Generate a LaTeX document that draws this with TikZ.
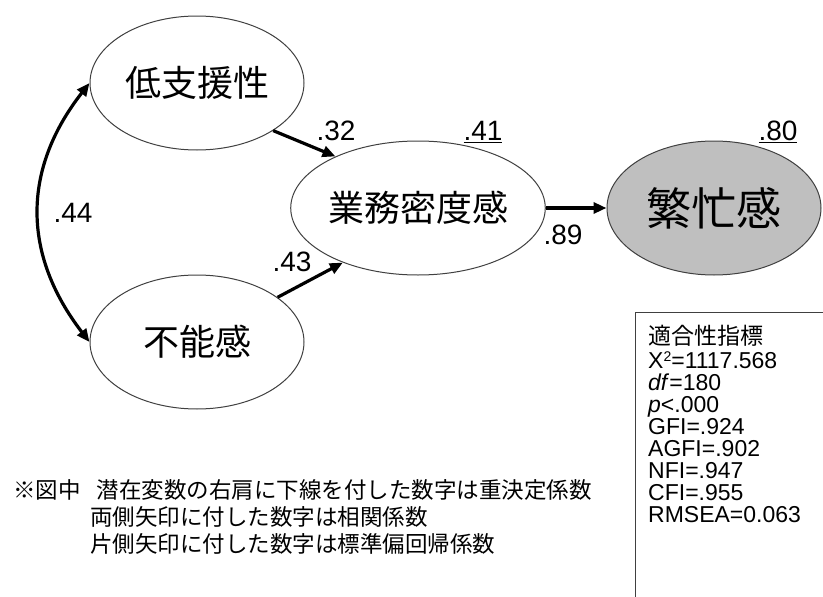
\documentclass[tikz,border=0pt]{standalone}
\usepackage{fontspec}
\setmainfont{Liberation Sans}
\newfontfamily\jp{Noto Sans CJK JP}
\usetikzlibrary{arrows.meta,shapes.geometric}
\begin{document}
\begin{tikzpicture}[x=1pt,y=-1pt,
  latent/.style={ellipse, draw=black!75, line width=1pt, minimum width=214pt, minimum height=134pt, inner sep=0pt, font=\jp\fontsize{36}{36}\selectfont},
  coef/.style={font=\fontsize{28}{28}\selectfont, inner sep=0pt},
  path/.style={line width=3.2pt, -{Triangle[length=13pt,width=11pt]}},
  fitline/.style={anchor=base west, inner sep=0pt, font=\fontsize{23}{23}\selectfont},
  noteline/.style={anchor=base west, inner sep=0pt, font=\jp\fontsize{22.5}{22.5}\selectfont}
]
\useasboundingbox (0,0) rectangle (823,597);
\clip (0,0) rectangle (823,597);
\fill[white] (0,0) rectangle (823,597);

\node[latent] (low) at (197,83) {低支援性};
\node[latent] (inc) at (197,342) {不能感};
\node[latent] (mid) at (418,208) {業務密度感};
\node[latent, fill=black!25, font=\jp\fontsize{45}{45}\selectfont] (busy) at (714,208) {繁忙感};

\draw[path] (low.-32) -- (mid.148);
\draw[path] (inc.29) -- (mid.216);
\draw[path] (mid.east) -- (busy.west);
\draw[line width=3.2pt, {Triangle[length=13pt,width=11pt]}-{Triangle[length=13pt,width=11pt]}]
  (low.west) .. controls +(-68,87) and +(-67,-87) .. (inc.west);

\node[coef] (c32) at (336,131) {.32};
\node[coef] (c43) at (292,262) {.43};
\node[coef] (c89) at (563,235) {.89};
\node[coef] (c44) at (73,213) {.44};
\node[coef] (r41) at (483,132) {\underline{.41}};
\node[coef] (r80) at (778,132) {\underline{.80}};

\draw[draw=black!75, line width=1pt] (635,640) -- (635,312) -- (840,312);
\node[fitline] (f1) at (648,344) {\jp 適合性指標};
\node[fitline] (f2) at (648,368) {X\raisebox{7pt}{\fontsize{14}{14}\selectfont 2}=1117.568};
\node[fitline] (f3) at (648,390) {\textit{df}=180};
\node[fitline] (f4) at (648,412) {\textit{p}<.000};
\node[fitline] (f5) at (648,434) {GFI=.924};
\node[fitline] (f6) at (648,456) {AGFI=.902};
\node[fitline] (f7) at (648,478) {NFI=.947};
\node[fitline] (f8) at (648,500) {CFI=.955};
\node[fitline] (f9) at (648,522) {RMSEA=0.063};

\node[noteline] (n1) at (13,498) {※図中\hspace{16pt}潜在変数の右肩に下線を付した数字は重決定係数};
\node[noteline] (n2) at (90,525) {両側矢印に付した数字は相関係数};
\node[noteline] (n3) at (90,552) {片側矢印に付した数字は標準偏回帰係数};
\end{tikzpicture}
\end{document}
